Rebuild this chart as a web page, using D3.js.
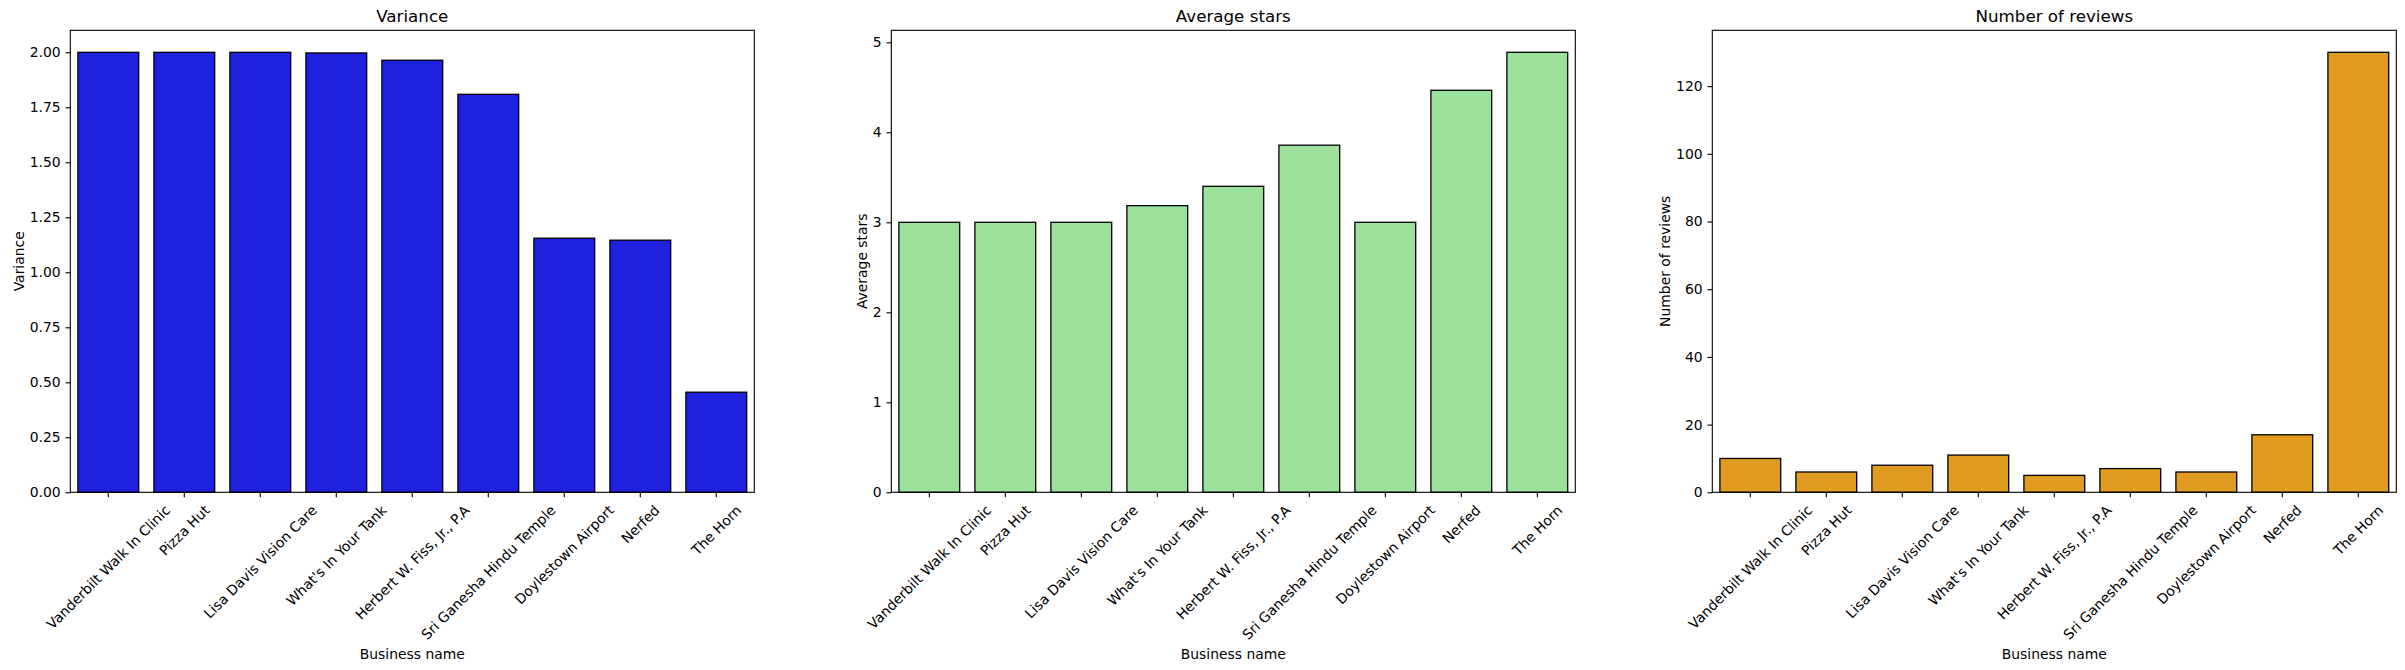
<!DOCTYPE html>
<html>
<head>
<meta charset="utf-8">
<script src="https://cdn.jsdelivr.net/npm/d3@7"></script>
<style>
  body { margin: 0; background: #fff; }
  svg text { font-family: "DejaVu Sans", sans-serif; fill: #000; }
</style>
</head>
<body>
<svg id="chart" width="2405" height="670"></svg>
<script>
// business names, same order in all three panels
var businesses = [
    "Vanderbilt Walk In Clinic", "Pizza Hut", "Lisa Davis Vision Care",
    "What's In Your Tank", "Herbert W. Fiss, Jr., P.A", "Sri Ganesha Hindu Temple",
    "Doylestown Airport", "Nerfed", "The Horn"
];
var varianceValues = [2.0, 2.0, 2.0, 1.997, 1.964, 1.809, 1.155, 1.146, 0.455];
var starsValues = [3.0, 3.0, 3.0, 3.185, 3.4, 3.857, 3.0, 4.467, 4.889];
var reviewsValues = [10, 6, 8, 11, 5, 7, 6, 17, 130];

var varianceTicks = [0, 0.25, 0.5, 0.75, 1.0, 1.25, 1.5, 1.75, 2.0];
var starsTicks = [0, 1, 2, 3, 4, 5];
var reviewsTicks = [0, 20, 40, 60, 80, 100, 120];

var panels = [
    {title: "Variance", values: varianceValues, ticks: varianceTicks, fmt: d3.format(".2f"), color: "#2020df"},
    {title: "Average stars", values: starsValues, ticks: starsTicks, fmt: d3.format("d"), color: "#9ce29c"},
    {title: "Number of reviews", values: reviewsValues, ticks: reviewsTicks, fmt: d3.format("d"), color: "#df9c20"}
];

var svg = d3.select("#chart");

var plotTop = 30.3, plotBottom = 492.3, plotWidth = 684, panelStep = 821, firstLeft = 70.3;
var tickLen = 4.86, tickPad = 4.86;

panels.forEach(function(p, i) {
    var left = firstLeft + i * panelStep;
    var g = svg.append("g").attr("transform", "translate(" + left + ",0)");

    var x = d3.scaleBand()
        .domain(businesses)
        .range([0, plotWidth])
        .paddingInner(0.2)
        .paddingOuter(0.1);

    var y = d3.scaleLinear()
        .domain([0, d3.max(p.values) * 1.05])
        .range([plotBottom, plotTop]);

    // bars
    g.selectAll("rect.bar")
        .data(p.values)
        .enter()
        .append("rect")
        .attr("class", "bar")
        .attr("x", function(d, j) { return x(businesses[j]); })
        .attr("width", x.bandwidth())
        .attr("y", function(d) { return y(d); })
        .attr("height", function(d) { return plotBottom - y(d); })
        .attr("fill", p.color)
        .attr("stroke", "#000")
        .attr("stroke-width", 1.3);

    // y axis
    var yAxis = g.append("g")
        .call(d3.axisLeft(y).tickValues(p.ticks).tickFormat(p.fmt)
            .tickSize(tickLen).tickPadding(tickPad).tickSizeOuter(0));
    yAxis.select(".domain").remove();
    yAxis.selectAll("line").attr("stroke", "#000").attr("stroke-width", 1.1);
    yAxis.selectAll("text").attr("font-size", 13.9).attr("font-family", "DejaVu Sans");

    // x axis
    var xAxis = g.append("g")
        .attr("transform", "translate(0," + plotBottom + ")")
        .call(d3.axisBottom(x).tickSize(tickLen).tickSizeOuter(0));
    xAxis.select(".domain").remove();
    xAxis.selectAll("line").attr("stroke", "#000").attr("stroke-width", 1.1);

    // rotate tick labels 45deg, centred under tick like matplotlib
    var maxBottom = 0;
    xAxis.selectAll(".tick text")
        .attr("font-size", 13.9)
        .attr("font-family", "DejaVu Sans")
        .attr("dy", null)
        .attr("y", 0)
        .attr("text-anchor", "middle")
        .attr("dominant-baseline", "central")
        .each(function() {
            var w = this.getComputedTextLength();
            var h = 13.9 * 1.15;
            var boxH = (w + h) / Math.SQRT2;
            var cy = tickLen + tickPad + boxH / 2;
            if (tickLen + tickPad + boxH > maxBottom) maxBottom = tickLen + tickPad + boxH;
            d3.select(this).attr("transform", "translate(0," + cy + ") rotate(-45)");
        });

    // frame
    g.append("rect")
        .attr("x", 0).attr("y", plotTop)
        .attr("width", plotWidth).attr("height", plotBottom - plotTop)
        .attr("fill", "none").attr("stroke", "#000").attr("stroke-width", 1.1);

    // x label
    g.append("text")
        .attr("x", plotWidth / 2)
        .attr("y", plotBottom + maxBottom + 5.6)
        .attr("dominant-baseline", "hanging")
        .attr("text-anchor", "middle")
        .attr("font-size", 13.9)
        .text("Business name");

    // y label, placed left of widest tick label
    var maxW = 0;
    yAxis.selectAll("text").each(function() {
        maxW = Math.max(maxW, this.getComputedTextLength());
    });
    var ylx = -(tickLen + tickPad + maxW + 5.6);
    g.append("text")
        .attr("transform", "translate(" + ylx + "," + ((plotTop + plotBottom) / 2) + ") rotate(-90)")
        .attr("text-anchor", "middle")
        .attr("font-size", 13.9)
        .text(p.title);

    // title
    g.append("text")
        .attr("x", plotWidth / 2)
        .attr("y", plotTop - 8.3)
        .attr("text-anchor", "middle")
        .attr("font-size", 16.7)
        .text(p.title);
});
</script>
</body>
</html>
